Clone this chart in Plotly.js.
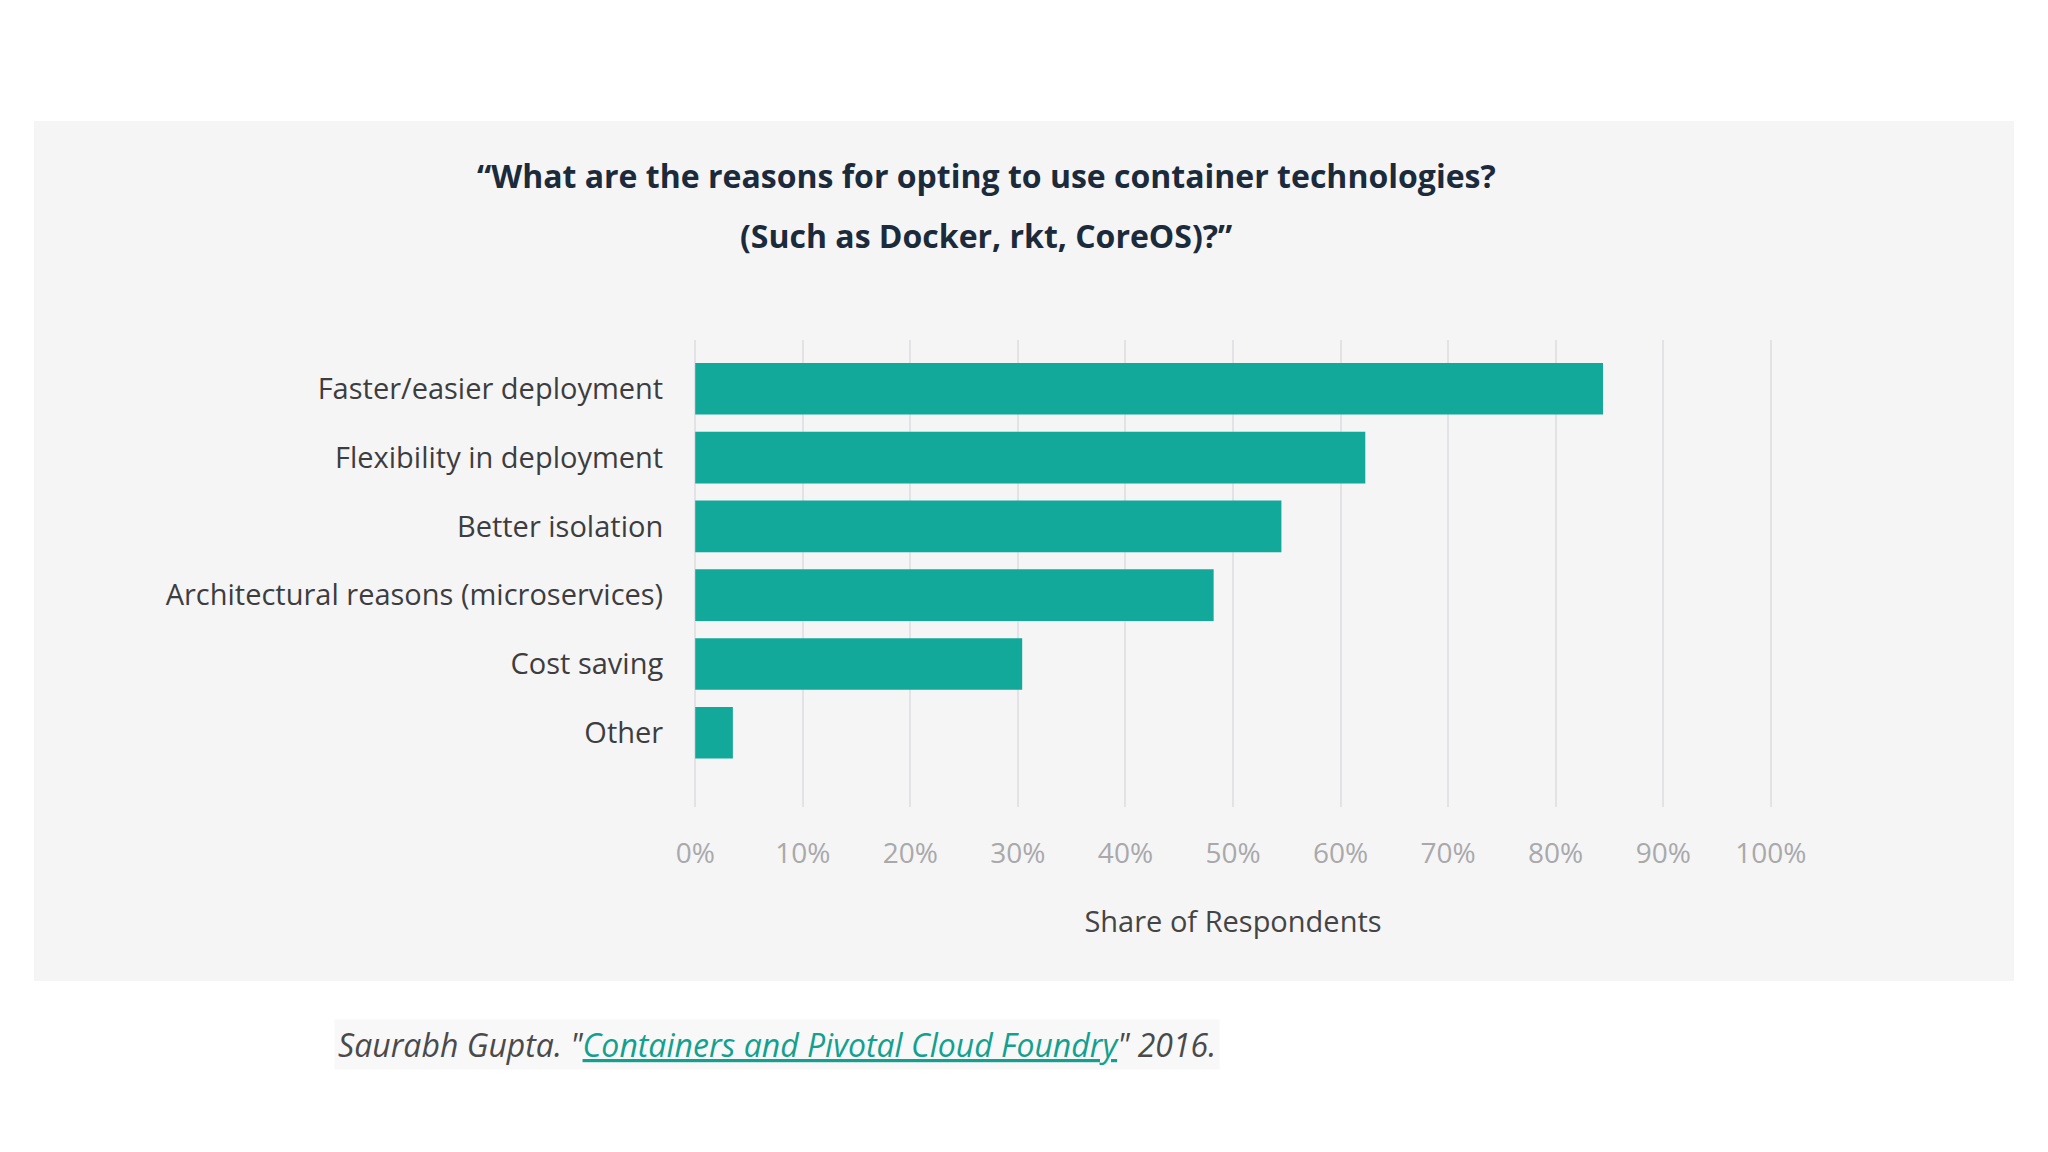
<!DOCTYPE html>
<html>
<head>
<meta charset="utf-8">
<script src="https://cdn.plot.ly/plotly-3.0.1.min.js"></script>
<style>
  html, body { margin: 0; padding: 0; background: #ffffff; }
  #reasons-graph { width: 2048px; height: 1152px; }
</style>
</head>
<body>
<div id="reasons-graph"></div>
<script>
const reasons = [
  'Faster/easier deployment',
  'Flexibility in deployment',
  'Better isolation',
  'Architectural reasons (microservices)',
  'Cost saving',
  'Other'
]
const shares = [84.4, 62.3, 54.5, 48.2, 30.4, 3.5]
const xTicks = [0, 10, 20, 30, 40, 50, 60, 70, 80, 90, 100]
const titleLines = [
  '\u201cWhat are the reasons for opting to use container technologies?',
  '(Such as Docker, rkt, CoreOS)?\u201d'
]
const sourceAuthor = 'Saurabh Gupta. "'
const sourceLink = 'Containers and Pivotal Cloud Foundry'
const sourceYear = '" 2016.'

// plot area in page pixels (range padded a little so the 0% and 100% grid lines show)
const plotLeft = 692
const plotRight = 1774
const plotTop = 340
const plotBottom = 807

function px (x) { return (x - plotLeft) / (plotRight - plotLeft) }
function py (y) { return (plotBottom - y) / (plotBottom - plotTop) }

const teal = '#12a89a'
const font = '"Open Sans", Lato, sans-serif'

var data = [{
  type: 'bar',
  orientation: 'h',
  x: shares,
  y: reasons,
  width: 0.75,
  marker: { color: teal },
  hoverinfo: 'x+y'
}]

var layout = {
  width: 2048,
  height: 1152,
  margin: { l: plotLeft, r: 2048 - plotRight, t: plotTop, b: 1152 - plotBottom, pad: 0 },
  paper_bgcolor: '#ffffff',
  plot_bgcolor: 'rgba(0,0,0,0)',
  showlegend: false,
  font: { family: font },
  xaxis: {
    range: [-0.3, 100.3],
    tickvals: xTicks,
    ticktext: xTicks.map(v => v + '%'),
    showgrid: true,
    gridcolor: '#e3e3e6',
    gridwidth: 2,
    zeroline: false,
    showline: false,
    ticks: 'outside',
    ticklen: 21,
    tickcolor: 'rgba(0,0,0,0)',
    tickfont: { size: 28, color: '#a9a9ab', family: font },
    title: {
      text: 'Share of Respondents',
      font: { size: 29, color: '#444444', family: font },
      standoff: 42
    },
    fixedrange: true
  },
  yaxis: {
    type: 'category',
    range: [6.08, -0.71],
    showgrid: false,
    zeroline: false,
    showline: false,
    ticks: 'outside',
    ticklen: 22,
    tickcolor: 'rgba(0,0,0,0)',
    tickfont: { size: 29, color: '#3d3d3f', family: font },
    fixedrange: true
  },
  shapes: [{
    type: 'rect',
    xref: 'paper',
    yref: 'paper',
    x0: px(34),
    x1: px(2014),
    y0: py(981),
    y1: py(121),
    fillcolor: '#f5f5f6',
    line: { width: 0 },
    layer: 'below'
  }],
  annotations: [
    {
      text: '<b>' + titleLines[0] + '</b>',
      xref: 'paper', yref: 'paper',
      x: px(986), y: py(175),
      xanchor: 'center', yanchor: 'middle',
      showarrow: false,
      font: { size: 32, color: '#1b2b3b', family: font }
    },
    {
      text: '<b>' + titleLines[1] + '</b>',
      xref: 'paper', yref: 'paper',
      x: px(986), y: py(235),
      xanchor: 'center', yanchor: 'middle',
      showarrow: false,
      font: { size: 32, color: '#1b2b3b', family: font }
    },
    {
      text: sourceAuthor +
        '<span style="color:#13a08f;text-decoration:underline">' + sourceLink + '</span>' +
        sourceYear,
      xref: 'paper', yref: 'paper',
      x: px(334), y: py(1044),
      xanchor: 'left', yanchor: 'middle',
      showarrow: false,
      bgcolor: '#f8f8f9',
      borderpad: 3,
      font: { size: 32, color: '#4a4a4c', family: font, style: 'italic' }
    }
  ]
}

Plotly.newPlot('reasons-graph', data, layout, { displayModeBar: false, staticPlot: true })
</script>
</body>
</html>
